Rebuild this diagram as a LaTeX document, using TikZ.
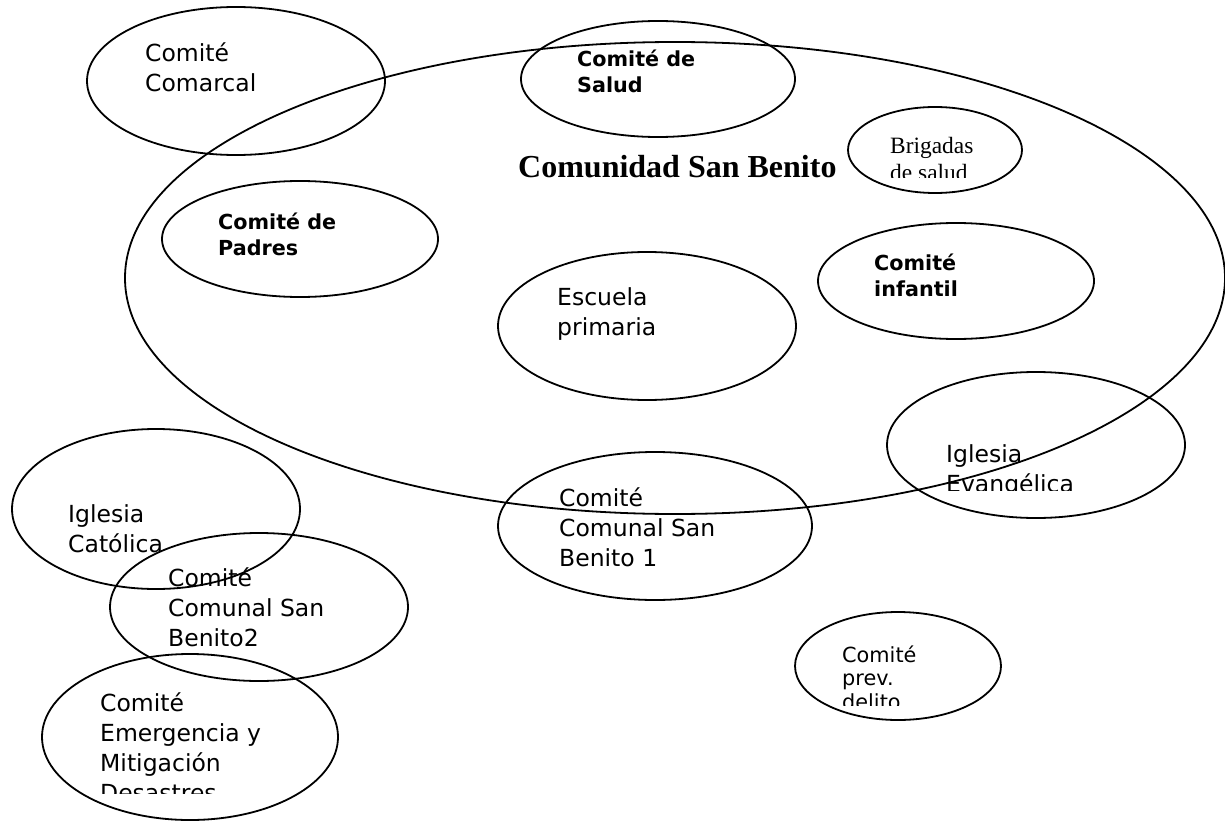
\documentclass[tikz,border=0pt]{standalone}
\usepackage{fontspec}
\setmainfont{DejaVu Sans}
\newfontfamily\timesfont{Liberation Serif}
\usetikzlibrary{shapes.geometric}

\tikzset{
  grupo/.style={draw, ellipse, line width=1.8pt, inner sep=0pt},
  % multi-line labels: the given point is the baseline of the last line
  txt/.style={anchor=base west, align=left, inner sep=0pt, font=\fontsize{23.5}{30}\selectfont},
  txtb/.style={anchor=base west, align=left, inner sep=0pt, font=\fontsize{20.7}{26}\selectfont\bfseries},
}

\begin{document}
\begin{tikzpicture}[x=1pt,y=1pt,yscale=-1]

    \useasboundingbox (0,0) rectangle (1225,821);

    % ellipses
    \draw (675,278) node [grupo, minimum width=1100, minimum height=472] (comunidad) {};
    \draw (236,81)  node [grupo, minimum width=298, minimum height=148] (comarcal) {};
    \draw (658,79)  node [grupo, minimum width=274, minimum height=116] (salud) {};
    \draw (935,150) node [grupo, minimum width=174, minimum height=86] (brigadas) {};
    \draw (300,239) node [grupo, minimum width=276, minimum height=116] (padres) {};
    \draw (647,326) node [grupo, minimum width=298, minimum height=148] (escuela) {};
    \draw (956,281) node [grupo, minimum width=276, minimum height=116] (infantil) {};
    \draw (1036,445) node [grupo, minimum width=298, minimum height=146] (evangelica) {};
    \draw (655,526) node [grupo, minimum width=314, minimum height=148] (comunal1) {};
    \draw (156,509) node [grupo, minimum width=288, minimum height=160] (catolica) {};
    \draw (259,607) node [grupo, minimum width=298, minimum height=148] (comunal2) {};
    \draw (190,737) node [grupo, minimum width=296, minimum height=166] (emergencia) {};
    \draw (898,666) node [grupo, minimum width=206, minimum height=108] (delito) {};

    % labels
    \draw (518,178) node [anchor=base west, inner sep=0pt, font=\fontsize{32}{38}\timesfont\bfseries] (comunidad-txt) {Comunidad San Benito};
    \draw (145,92)  node [txt] (comarcal-txt) {Comité\\Comarcal};
    \draw (577,93)  node [txtb] (salud-txt) {Comité de\\Salud};
    \draw (218,255) node [txtb] (padres-txt) {Comité de\\Padres};
    \draw (557,335) node [txt] (escuela-txt) {Escuela\\primaria};
    \draw (874,296) node [txtb] (infantil-txt) {Comité\\infantil};
    \draw (559,566) node [txt] (comunal1-txt) {Comité\\Comunal San\\Benito 1};
    \draw (68,552)  node [txt] (catolica-txt) {Iglesia\\Católica};
    \draw (168,646) node [txt] (comunal2-txt) {Comité\\Comunal San\\Benito2};

    % labels cut off at the bottom of their box
    \begin{scope}
      \clip (840,100) rectangle (1030,178);
      \draw (890,181) node [anchor=base west, align=left, inner sep=0pt, font=\fontsize{23.4}{27}\timesfont] (brigadas-txt) {Brigadas\\de salud};
    \end{scope}
    \begin{scope}
      \clip (900,420) rectangle (1180,490);
      \draw (946,492) node [txt] (evangelica-txt) {Iglesia\\Evangélica};
    \end{scope}
    \begin{scope}
      \clip (60,680) rectangle (330,793);
      \draw (100,801) node [txt] (emergencia-txt) {Comité\\Emergencia y\\Mitigación\\Desastres};
    \end{scope}
    \begin{scope}
      \clip (820,630) rectangle (1000,705);
      \draw (842,709) node [anchor=base west, align=left, inner sep=0pt, font=\fontsize{20.8}{23.5}\selectfont] (delito-txt) {Comité\\prev.\\delito};
    \end{scope}

\end{tikzpicture}
\end{document}
